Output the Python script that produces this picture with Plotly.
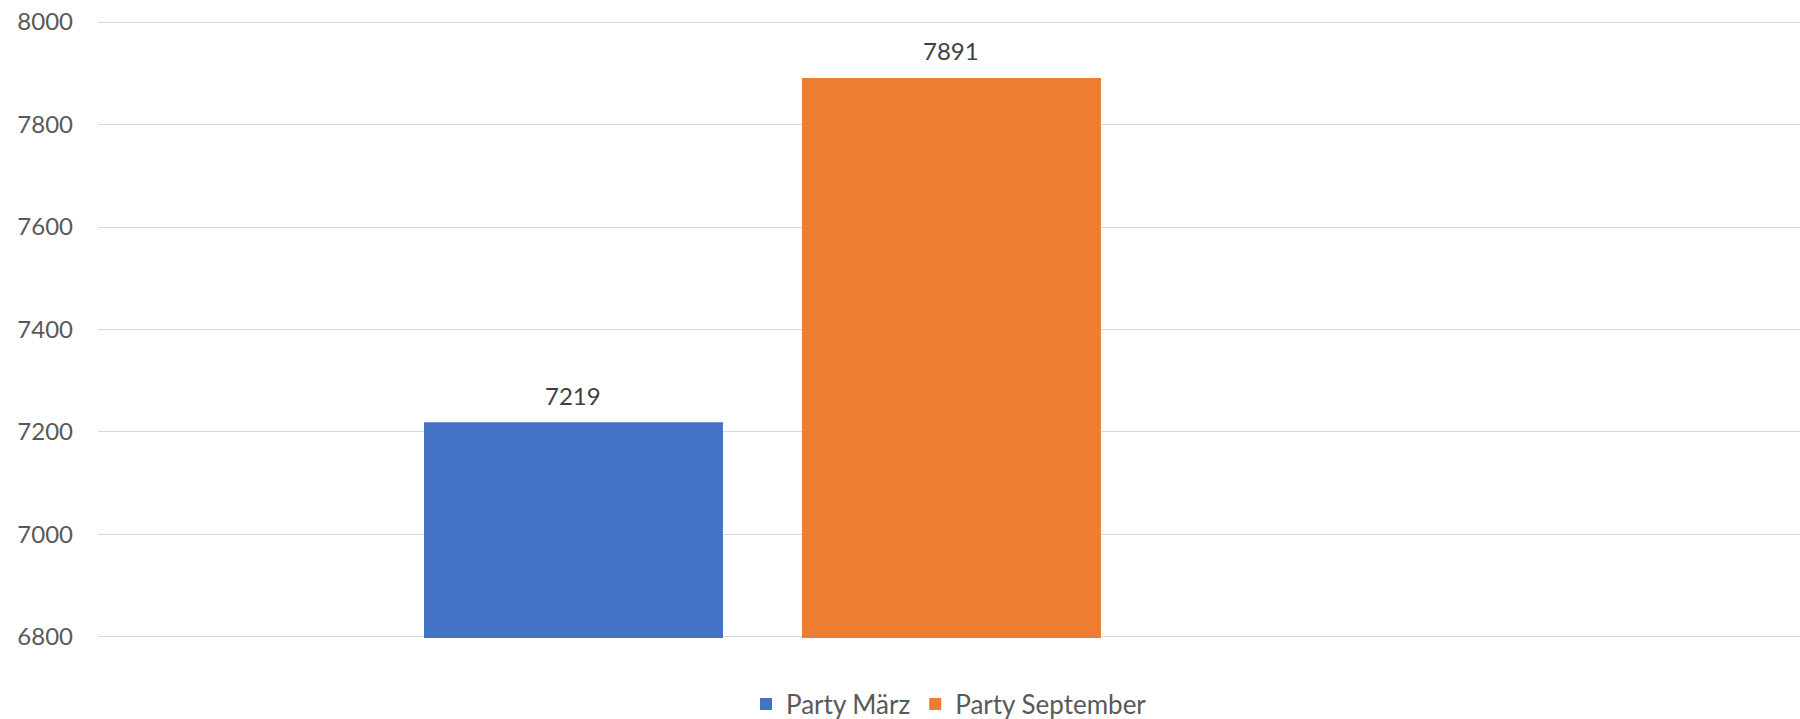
import plotly.graph_objects as go

series_names = ["Party März", "Party September"]
values = [7219, 7891]
colors = ["#4472C4", "#ED7D31"]
y_ticks = [6800, 7000, 7200, 7400, 7600, 7800, 8000]

FONT = "Lato, 'Liberation Sans', Arial, sans-serif"

fig = go.Figure()
for name, val, col in zip(series_names, values, colors):
    fig.add_trace(go.Bar(
        x=[name], y=[val], name=name,
        marker=dict(color=col, line=dict(width=0)),
        width=0.791,
        hoverinfo="skip",
    ))
    fig.add_annotation(
        x=name, y=val, xref="x", yref="y",
        text=str(val), showarrow=False,
        yanchor="middle", yshift=27,
        font=dict(family=FONT, size=24, color="#404040"),
    )

fig.update_layout(
    width=1800, height=719,
    barmode="overlay",
    paper_bgcolor="white", plot_bgcolor="white",
    margin=dict(l=98, r=0, t=20.5, b=81.3, autoexpand=False),
    font=dict(family=FONT, size=24, color="#595959"),
    showlegend=True,
    legend=dict(
        orientation="h", x=0.5, xanchor="center",
        y=-0.107, yanchor="middle",
        font=dict(family=FONT, size=26, color="#595959"),
        traceorder="normal",
    ),
    xaxis=dict(
        type="category",
        range=[-1.258, 3.245],
        showticklabels=False, showgrid=False, zeroline=False,
        showline=False, ticks="",
    ),
    yaxis=dict(
        range=[6798, 8002],
        tickvals=y_ticks,
        showgrid=True, gridcolor="#d9d9d9", gridwidth=1,
        zeroline=False, showline=False, ticks="",
        ticklabelstandoff=24,
        tickfont=dict(family=FONT, size=24, color="#595959"),
    ),
)

fig.write_html(
    "out.html",
    config={"displayModeBar": False, "staticPlot": True},
    post_script="document.body.style.margin='0';document.body.style.overflow='hidden';",
)
